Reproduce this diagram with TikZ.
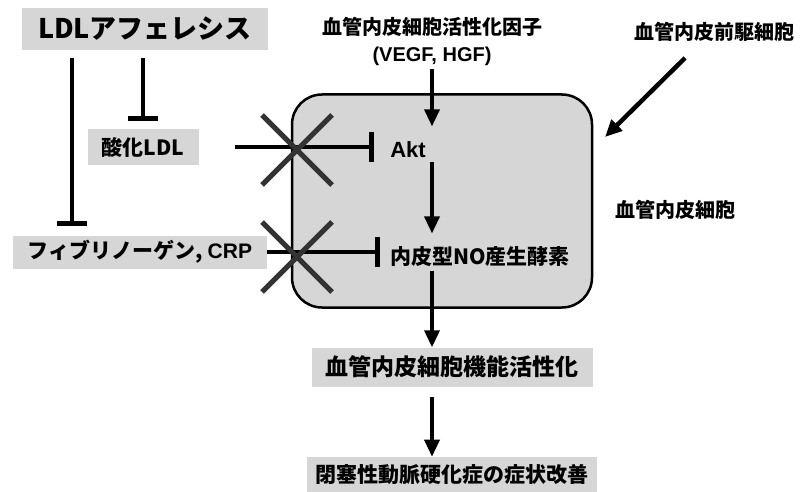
\documentclass[tikz,border=0pt]{standalone}
\usepackage{fontspec}
\setmainfont{Noto Sans CJK JP}
\newfontfamily\latinfont{Liberation Sans}
\usetikzlibrary{positioning, arrows.meta, shapes.misc}
\tikzset{
  labelbox/.style={rectangle, fill=black!16, inner sep=0pt, align=center, font=\bfseries\fontsize{21}{25}\selectfont},
  cellbox/.style={rectangle, rounded corners=30pt, draw=black, line width=2.5pt, fill=black!16},
  plaintext/.style={align=center, font=\bfseries\fontsize{20}{27}\selectfont},
  arrow/.style={line width=3.5pt, -{Triangle[width=15pt,length=17pt]}},
  inhibit/.style={line width=3.5pt, -{Bar[width=30pt,line width=5pt]}},
  crossmark/.style={cross out, draw=black!80, line width=5pt, minimum size=65pt, inner sep=0pt}
}

\begin{document}
\begin{tikzpicture}[x=1pt, y=-1pt]
    \useasboundingbox (0,0) rectangle (803,492);

    % Zelle
    \node (cell) [cellbox, minimum width=300pt, minimum height=213pt] at (442,201) {};

    \node (apheresis) [labelbox, minimum width=246pt, minimum height=42pt, font=\bfseries\fontsize{27}{30}\selectfont] at (145,29) {LDLアフェレシス};
    \node (oxldl) [labelbox, minimum width=111pt, minimum height=35pt] at (143,147) {酸化LDL};
    \node (fibrinogen) [labelbox, minimum width=254pt, minimum height=33pt] at (140,252) {フィブリノーゲン, {\latinfont CRP}};

    \node (factor) [plaintext] at (432,41) {血管内皮細胞活性化因子\\{\latinfont (VEGF, HGF)}};
    \node (akt) [plaintext, font=\latinfont\bfseries\fontsize{22}{24}\selectfont] at (408,150) {Akt};
    \node (enos) [plaintext, font=\bfseries\fontsize{21}{24}\selectfont] at (480,257) {内皮型NO産生酵素};
    \node (function) [labelbox, minimum width=281pt, minimum height=39pt, font=\bfseries\fontsize{23}{25}\selectfont] at (452,367) {血管内皮細胞機能活性化};
    \node (improve) [labelbox, minimum width=290pt, minimum height=36pt, below=70pt of function] {閉塞性動脈硬化症の症状改善};

    \node (progenitor) [plaintext] at (714,32) {血管内皮前駆細胞};
    \node (endothelial) [plaintext] at (675,210) {血管内皮細胞};

    \coordinate (axis) at (432,0);
    \coordinate (leftline) at (72,0);
    \coordinate (progtail) at (685,58);
    \coordinate (progtip) at (605,137);

    % Hauptweg
    \draw [arrow, shorten >=12pt] (factor.south -| axis) -- (akt.north -| axis);
    \draw [arrow, shorten >=10pt] (akt.south -| axis) -- (enos.north -| axis);
    \draw [arrow] (enos.south -| axis) -- (function.north -| axis);
    \draw [arrow, shorten <=10pt] (function.south -| axis) -- (improve.north -| axis);
    \draw [arrow, line width=4.5pt] (progtail) -- (progtip);

    % Hemmung
    \draw [inhibit, shorten <=8pt, shorten >=9pt] (apheresis.south -| leftline) -- (fibrinogen.north -| leftline);
    \draw [inhibit, shorten <=8pt, shorten >=8pt] (apheresis.south -| oxldl.north) -- (oxldl.north);
    \draw [inhibit, shorten <=36pt, shorten >=13pt] (oxldl.east) -- (oxldl.east -| akt.west);
    \draw [inhibit, shorten >=7pt] (fibrinogen.east) -- (fibrinogen.east -| enos.west);

    % Kreuze
    \node (blockakt) [crossmark] at (297,150) {};
    \node (blockenos) [crossmark] at (297,257) {};

\end{tikzpicture}
\end{document}
